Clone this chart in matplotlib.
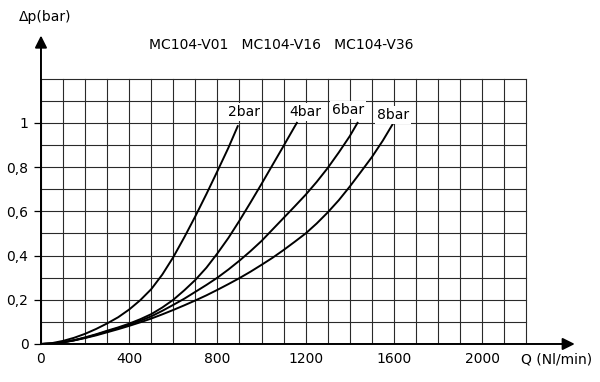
import matplotlib
matplotlib.use("Agg")
import matplotlib.pyplot as plt

# flow Q (Nl/min) vs pressure drop (bar)
q_2bar = [0, 50, 100, 150, 200, 250, 300, 350, 400, 450, 500, 550, 600, 650, 700, 750, 800, 850, 892]
dp_2bar = [0, 0.004, 0.014, 0.028, 0.046, 0.068, 0.093, 0.121, 0.156, 0.198, 0.248, 0.314, 0.393,
           0.483, 0.578, 0.678, 0.782, 0.888, 0.985]

q_4bar = [0, 50, 100, 150, 200, 250, 300, 350, 400, 450, 500, 550, 600, 650, 700, 750, 800, 850,
          900, 950, 1000, 1050, 1100, 1150, 1160]
dp_4bar = [0, 0.002, 0.008, 0.017, 0.03, 0.044, 0.06, 0.075, 0.092, 0.112, 0.135, 0.165, 0.2, 0.243,
           0.29, 0.345, 0.41, 0.48, 0.558, 0.64, 0.724, 0.81, 0.896, 0.983, 1.0]

q_6bar = [0, 50, 100, 150, 200, 250, 300, 350, 400, 450, 500, 550, 600, 650, 700, 750, 800, 850,
          900, 950, 1000, 1050, 1100, 1150, 1200, 1250, 1300, 1350, 1400, 1435]
dp_6bar = [0, 0.002, 0.008, 0.017, 0.028, 0.042, 0.057, 0.072, 0.088, 0.105, 0.125, 0.15, 0.177,
           0.205, 0.236, 0.267, 0.3, 0.337, 0.377, 0.42, 0.466, 0.518, 0.57, 0.622, 0.675, 0.733,
           0.796, 0.866, 0.94, 1.0]

q_8bar = [0, 50, 100, 150, 200, 250, 300, 350, 400, 450, 500, 550, 600, 650, 700, 750, 800, 850,
          900, 950, 1000, 1050, 1100, 1150, 1200, 1250, 1300, 1350, 1400, 1450, 1500, 1550, 1598]
dp_8bar = [0, 0.002, 0.007, 0.016, 0.027, 0.039, 0.053, 0.067, 0.082, 0.098, 0.115, 0.134, 0.154,
           0.175, 0.197, 0.22, 0.245, 0.271, 0.298, 0.327, 0.358, 0.39, 0.425, 0.462, 0.5, 0.545,
           0.595, 0.65, 0.712, 0.778, 0.845, 0.92, 1.0]

curves = [("2bar", q_2bar, dp_2bar, (921, 1.05)),
          ("4bar", q_4bar, dp_4bar, (1197, 1.05)),
          ("6bar", q_6bar, dp_6bar, (1392, 1.06)),
          ("8bar", q_8bar, dp_8bar, (1596, 1.035))]

x_ticks = [0, 400, 800, 1200, 1600, 2000]
y_ticks = [0, 0.2, 0.4, 0.6, 0.8, 1.0]
y_labels = ["0", "0,2", "0,4", "0,6", "0,8", "1"]
models = "MC104-V01   MC104-V16   MC104-V36"

fig = plt.figure(figsize=(6, 3.82), dpi=100)
ax = fig.add_axes([0.0683, 0.0995, 0.897, 0.822])
ax.set_xlim(0, 2440)
ax.set_ylim(0, 1.42)
for s in ax.spines.values():
    s.set_visible(False)

# grid: 100 Nl/min by 0.1 bar, up to 2200 x 1.2
for i in range(23):
    ax.plot([i * 100, i * 100], [0, 1.2], color="#2a2a2a", lw=0.8, zorder=1)
for j in range(13):
    ax.plot([0, 2200], [j * 0.1, j * 0.1], color="#2a2a2a", lw=0.8, zorder=1)

# axes with arrows
ax.annotate("", xy=(2420, 0), xytext=(0, 0),
            arrowprops=dict(arrowstyle="-|>", mutation_scale=18, color="black", lw=1.4,
                            shrinkA=0, shrinkB=0), zorder=3)
ax.annotate("", xy=(0, 1.395), xytext=(0, 0),
            arrowprops=dict(arrowstyle="-|>", mutation_scale=18, color="black", lw=1.4,
                            shrinkA=0, shrinkB=0), zorder=3)

for name, q, dp, pos in curves:
    ax.plot(q, dp, color="black", lw=1.4, zorder=4, solid_joinstyle="round")
    ax.text(pos[0], pos[1], name, ha="center", va="center", fontsize=10,
            bbox=dict(facecolor="white", edgecolor="none", pad=1.5), zorder=5)

ax.set_xticks(x_ticks)
ax.set_xticklabels([str(v) for v in x_ticks], fontsize=10)
ax.set_yticks(y_ticks)
ax.set_yticklabels(y_labels, fontsize=10)
ax.tick_params(axis="x", length=0, pad=6)
ax.tick_params(axis="y", length=5, width=0.9, pad=4)

fig.text(0.075, 0.955, "Δp(bar)", ha="center", va="center", fontsize=10)
fig.text(0.468, 0.882, models, ha="center", va="center", fontsize=10)
fig.text(0.928, 0.058, "Q (Nl/min)", ha="center", va="center", fontsize=10)

fig.savefig("out.png", dpi=100)
